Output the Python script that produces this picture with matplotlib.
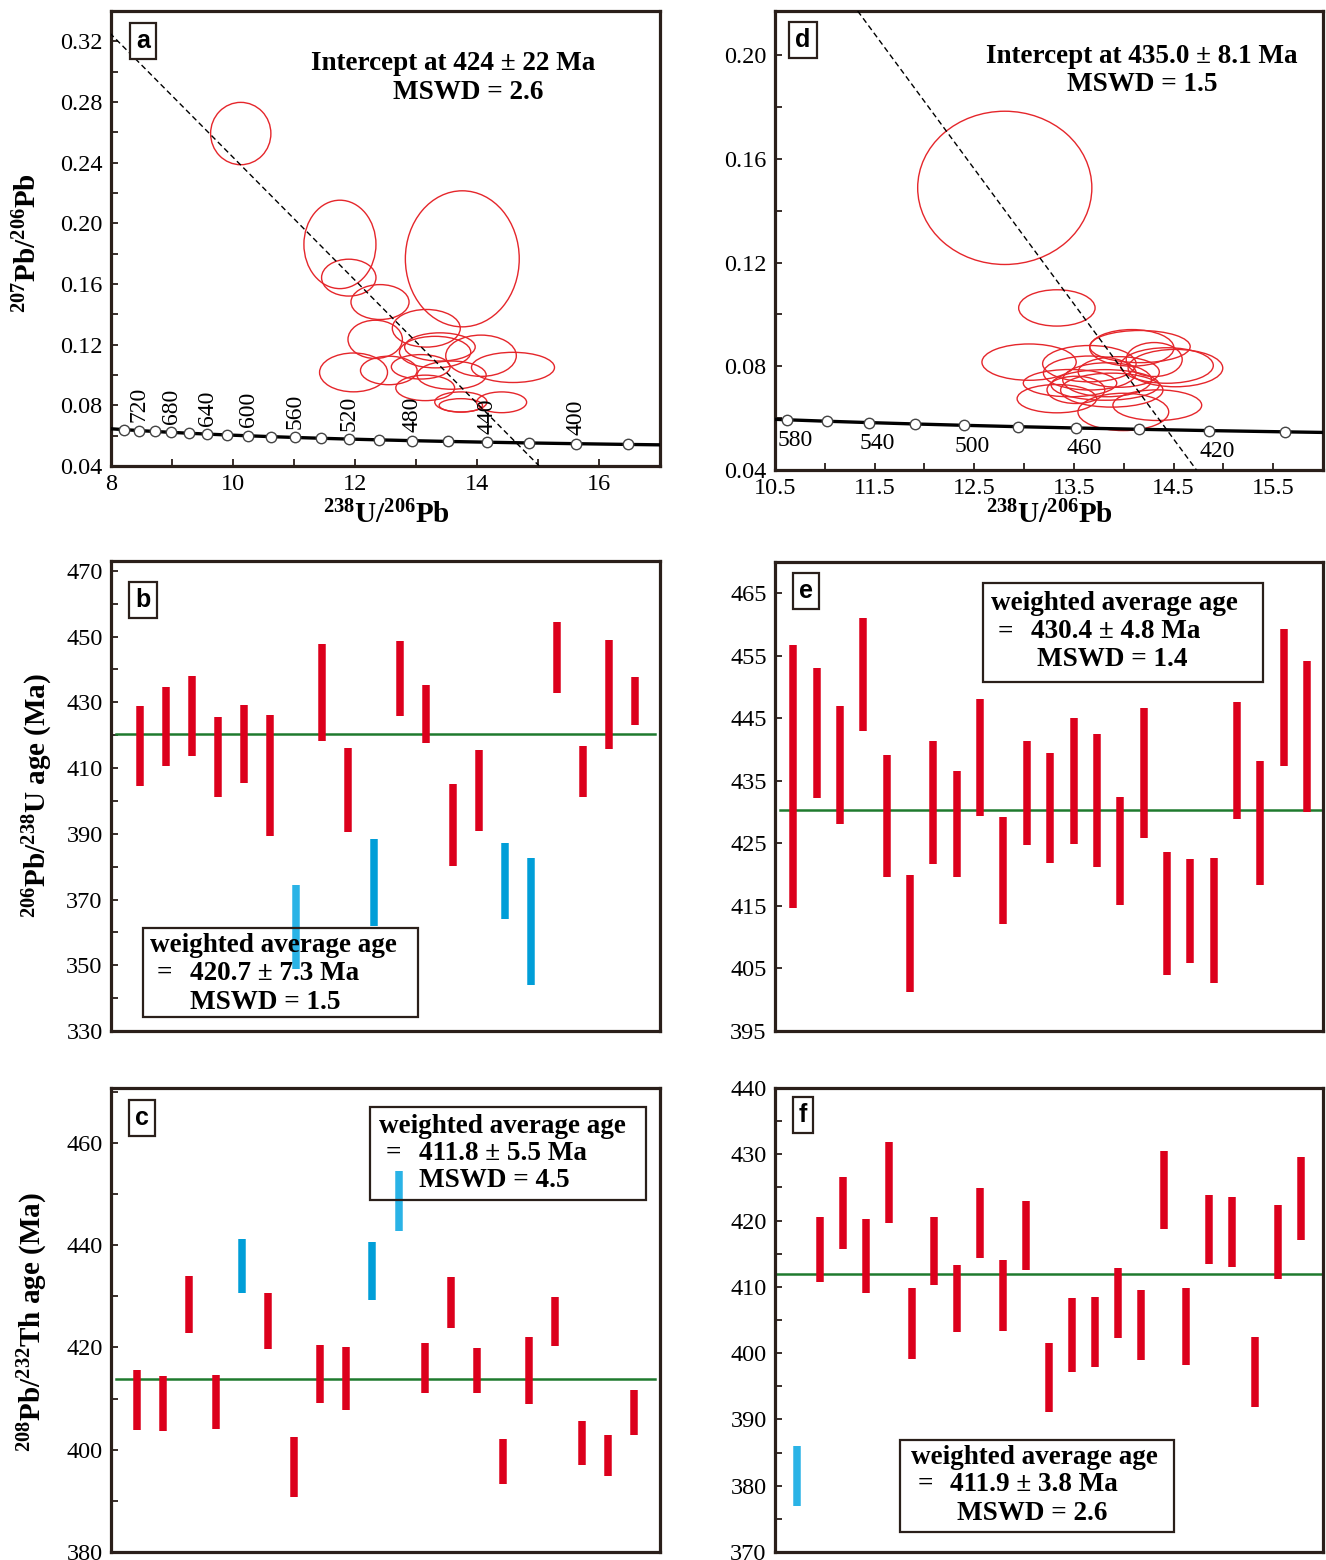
import matplotlib
matplotlib.use("Agg")
import matplotlib.pyplot as plt
from matplotlib.patches import Ellipse, Rectangle
from matplotlib.ticker import MultipleLocator, FixedLocator, NullLocator

plt.rcParams['font.family'] = ['Liberation Serif', 'DejaVu Serif']
plt.rcParams['mathtext.fontset'] = 'custom'
plt.rcParams['mathtext.rm'] = 'Liberation Serif:bold'
plt.rcParams['mathtext.it'] = 'Liberation Serif:bold'
plt.rcParams['mathtext.bf'] = 'Liberation Serif:bold'

# ---------------- data ----------------
# Concordia curve points, ages in Ma
conc_age = [760, 740, 720, 700, 680, 660, 640, 620, 600, 580, 560, 540, 520,
            500, 480, 460, 440, 420, 400, 380, 360]
conc_x = [7.992, 8.221, 8.463, 8.718, 8.989, 9.276, 9.581, 9.905, 10.252, 10.622,
          11.019, 11.445, 11.904, 12.399, 12.936, 13.520, 14.157, 14.854, 15.621,
          16.469, 17.411]
conc_y = [0.06456, 0.06396, 0.06336, 0.06276, 0.06218, 0.06160, 0.06103, 0.06046,
          0.05991, 0.05936, 0.05881, 0.05828, 0.05775, 0.05723, 0.05671, 0.05620,
          0.05570, 0.05520, 0.05471, 0.05422, 0.05374]
a_marker_ages = [740, 720, 700, 680, 660, 640, 620, 600, 580, 560, 540, 520, 500,
                 480, 460, 440, 420, 400, 380]
a_label_ages = [720, 680, 640, 600, 560, 520, 480, 440, 400]
d_marker_ages = [580, 560, 540, 520, 500, 480, 460, 440, 420, 400]
d_label_ages = [580, 540, 500, 460, 420]

# Discordia lines (two points each)
disc_a_x = [7.98, 15.02]
disc_a_y = [0.3255, 0.04]
disc_d_x = [11.33, 14.73]
disc_d_y = [0.217, 0.04]

# Panel a ellipses: centre x, centre y, width, height
ell_a_cx = [10.127, 11.753, 11.898, 13.759, 12.410, 13.169, 12.331, 13.392, 13.313,
            14.066, 11.976, 12.554, 13.078, 13.584, 14.590, 13.151, 13.735, 13.735, 14.404]
ell_a_cy = [0.2592, 0.1861, 0.1642, 0.1766, 0.1481, 0.1308, 0.1235, 0.1185, 0.1151,
            0.1127, 0.1017, 0.1030, 0.1054, 0.0999, 0.1050, 0.0915, 0.0822, 0.0800, 0.0820]
ell_a_w = [0.988, 1.181, 0.892, 1.867, 0.952, 1.114, 0.892, 1.157, 1.169,
           1.157, 1.114, 0.928, 0.964, 1.133, 1.361, 0.964, 0.855, 0.711, 0.819]
ell_a_h = [0.0411, 0.0583, 0.0243, 0.0897, 0.0230, 0.0248, 0.0252, 0.0186, 0.0208,
           0.0272, 0.0256, 0.0188, 0.0161, 0.0186, 0.0199, 0.0168, 0.0133, 0.0088, 0.0137]

# Panel d ellipses
ell_d_cx = [12.806, 13.329, 13.050, 14.081, 14.163, 14.519, 14.434, 13.655, 13.329,
            13.461, 13.996, 14.337, 13.880, 13.833, 13.659, 13.814, 14.306, 13.950, 13.520]
ell_d_cy = [0.1488, 0.1025, 0.0816, 0.0871, 0.0876, 0.0793, 0.0803, 0.0810, 0.0675,
            0.0735, 0.0624, 0.0650, 0.0708, 0.0748, 0.0774, 0.0728, 0.0826, 0.0778, 0.0709]
ell_d_w = [1.748, 0.767, 0.946, 0.845, 1.008, 0.950, 0.930, 0.938, 0.798,
           0.938, 0.911, 0.891, 1.027, 0.891, 0.930, 1.085, 0.562, 0.814, 0.580]
ell_d_h = [0.0591, 0.0140, 0.0140, 0.0141, 0.0124, 0.0144, 0.0137, 0.0140, 0.0109,
           0.0105, 0.0144, 0.0118, 0.0131, 0.0131, 0.0131, 0.0118, 0.0131, 0.0118, 0.0105]

# Panel b: 206Pb/238U ages (top, bottom of 2-sigma bars), colour class
b_hi = [429.0, 434.7, 438.1, 425.5, 429.3, 426.0, 374.4, 447.8, 416.0, 388.4,
        448.7, 435.4, 405.0, 415.5, 387.1, 382.7, 454.5, 416.8, 448.9, 437.8]
b_lo = [404.6, 410.5, 413.8, 401.1, 405.4, 389.2, 349.0, 418.1, 390.4, 361.9,
        425.9, 417.6, 380.1, 390.7, 364.2, 344.0, 432.7, 401.1, 415.7, 423.1]
b_cls = ['r', 'r', 'r', 'r', 'r', 'r', 'lb', 'r', 'r', 'b',
         'r', 'r', 'r', 'r', 'b', 'b', 'r', 'r', 'r', 'r']
b_mean = 420.5

# Panel c: 208Pb/232Th ages
c_hi = [415.5, 414.5, 433.9, 414.6, 441.2, 430.6, 402.4, 420.5, 420.1, 440.6,
        454.5, 420.8, 433.7, 419.9, 402.1, 422.1, 429.9, 405.7, 402.8, 411.6]
c_lo = [403.9, 403.7, 422.8, 404.1, 430.6, 419.7, 390.7, 409.2, 407.8, 429.3,
        442.8, 411.1, 423.8, 411.1, 393.3, 408.9, 420.3, 397.0, 394.8, 402.8]
c_cls = ['r', 'r', 'r', 'r', 'b', 'r', 'r', 'r', 'r', 'b',
         'lb', 'r', 'r', 'r', 'r', 'r', 'r', 'r', 'r', 'r']
c_mean = 413.9

# Panel e: 206Pb/238U ages
e_hi = [456.8, 453.1, 446.9, 461.0, 439.2, 420.0, 441.4, 436.5, 448.1, 429.2, 441.4, 439.4,
        445.1, 442.5, 432.4, 446.7, 423.7, 422.5, 422.6, 447.6, 438.1, 459.3, 454.2]
e_lo = [414.6, 432.2, 428.1, 443.0, 419.6, 401.3, 421.7, 419.6, 429.4, 412.1, 424.7, 421.9,
        424.9, 421.3, 415.1, 425.9, 404.0, 405.9, 402.7, 428.9, 418.3, 437.3, 430.1]
e_mean = 430.4

# Panel f: 208Pb/232Th ages
f_hi = [386.0, 420.5, 426.6, 420.2, 431.9, 409.8, 420.6, 413.3, 424.9, 414.0, 422.9, 401.5,
        408.3, 408.5, 412.9, 409.5, 430.5, 409.9, 423.9, 423.5, 402.5, 422.4, 429.6]
f_lo = [376.9, 410.8, 415.7, 409.0, 419.6, 399.1, 410.3, 403.2, 414.4, 403.4, 412.5, 391.1,
        397.1, 397.9, 402.3, 399.0, 418.7, 398.2, 413.4, 413.0, 391.8, 411.2, 417.1]
f_cls = ['lb'] + ['r'] * 22
f_mean = 412.0

# ---------------- styles ----------------
RED = '#DC001C'
BLUE = '#009ED8'
LBLUE = '#2AB3E6'
COLS = {'r': RED, 'b': BLUE, 'lb': LBLUE}
ERED = '#E5262B'
GREEN = '#1F7A2E'
SPINE = '#2A1F1A'
W, H = 1326, 1560
TXT = 19.5
TICK = 17.5

fig = plt.figure(figsize=(W / 100, H / 100), dpi=100)


def add_ax(l, t, r, b):
    return fig.add_axes([l / W, 1 - b / H, (r - l) / W, (b - t) / H])


def style(ax):
    for s in ax.spines.values():
        s.set_linewidth(2.3)
        s.set_color(SPINE)
    ax.tick_params(which='both', direction='in', length=5, width=1.3, color=SPINE,
                   labelsize=TICK, pad=6, top=False, right=False)


def letter(ax, ch, x, y):
    ax.text(x, y, ch, transform=ax.transAxes, ha='center', va='center',
            fontsize=18, fontweight='bold', family='Liberation Sans', zorder=10,
            bbox=dict(boxstyle='square,pad=0.25', fc='white', ec=SPINE, lw=1.6))


def wbox(ax, x0, y0, x1, y1, lines):
    ax.add_patch(Rectangle((x0, y0), x1 - x0, y1 - y0, transform=ax.transAxes,
                           fill=False, ec=SPINE, lw=1.6, zorder=6))
    for (x, y, s) in lines:
        ax.text(x, y, s, transform=ax.transAxes, ha='left', va='center',
                fontsize=TXT, fontweight='bold', zorder=7)


def bars(ax, hi, lo, cls):
    xs = list(range(1, len(hi) + 1))
    cols = [COLS[c] for c in cls]
    ax.vlines(xs, lo, hi, colors=cols, lw=5.4, zorder=3)


# ---------------- panel a ----------------
axa = add_ax(111, 11, 660, 466)
style(axa)
axa.set_xlim(8, 17.0)
axa.set_ylim(0.04, 0.34)
axa.xaxis.set_major_locator(FixedLocator([8, 10, 12, 14, 16]))
axa.xaxis.set_minor_locator(FixedLocator([9, 11, 13, 15]))
axa.yaxis.set_major_locator(FixedLocator([0.04, 0.08, 0.12, 0.16, 0.20, 0.24, 0.28, 0.32]))
axa.yaxis.set_minor_locator(FixedLocator([0.06, 0.10, 0.14, 0.18, 0.22, 0.26, 0.30]))
axa.set_yticklabels(['0.04', '0.08', '0.12', '0.16', '0.20', '0.24', '0.28', '0.32'])
axa.plot(conc_x, conc_y, color='black', lw=2.4, zorder=4)
mx = [conc_x[conc_age.index(a)] for a in a_marker_ages]
my = [conc_y[conc_age.index(a)] for a in a_marker_ages]
axa.plot(mx, my, 'o', ms=7.5, mfc='white', mec='#444444', mew=1.0, zorder=5)
for a in a_label_ages:
    i = conc_age.index(a)
    axa.text(conc_x[i], conc_y[i] + 0.0055, str(a), rotation=90, ha='center',
             va='bottom', fontsize=17, zorder=5)
axa.plot(disc_a_x, disc_a_y, ls=(0, (4, 2.5)), color='black', lw=1.0, zorder=4)
for cx, cy, w, h in zip(ell_a_cx, ell_a_cy, ell_a_w, ell_a_h):
    axa.add_patch(Ellipse((cx, cy), w, h, fill=False, ec=ERED, lw=1.0, zorder=3))
letter(axa, 'a', 0.058, 0.934)
axa.text(0.623, 0.884, 'Intercept at 424 ± 22 Ma', transform=axa.transAxes,
         ha='center', va='center', fontsize=TXT, fontweight='bold')
axa.text(0.650, 0.820, 'MSWD = 2.6', transform=axa.transAxes,
         ha='center', va='center', fontsize=TXT, fontweight='bold')

# ---------------- panel d ----------------
axd = add_ax(775, 11, 1323, 470)
style(axd)
axd.set_xlim(10.5, 16.0)
axd.set_ylim(0.04, 0.217)
axd.xaxis.set_major_locator(FixedLocator([10.5, 11.5, 12.5, 13.5, 14.5, 15.5]))
axd.xaxis.set_minor_locator(FixedLocator([11, 12, 13, 14, 15]))
axd.yaxis.set_major_locator(FixedLocator([0.04, 0.08, 0.12, 0.16, 0.20]))
axd.yaxis.set_minor_locator(FixedLocator([0.06, 0.10, 0.14, 0.18]))
axd.set_yticklabels(['0.04', '0.08', '0.12', '0.16', '0.20'])
axd.plot(conc_x, conc_y, color='black', lw=2.4, zorder=4)
mx = [conc_x[conc_age.index(a)] for a in d_marker_ages]
my = [conc_y[conc_age.index(a)] for a in d_marker_ages]
axd.plot(mx, my, 'o', ms=7.5, mfc='white', mec='#444444', mew=1.0, zorder=5)
for a in d_label_ages:
    i = conc_age.index(a)
    axd.text(conc_x[i] + 0.08, conc_y[i] - 0.004, str(a), ha='center',
             va='top', fontsize=17, zorder=5)
axd.plot(disc_d_x, disc_d_y, ls=(0, (4, 2.5)), color='black', lw=1.0, zorder=4)
for cx, cy, w, h in zip(ell_d_cx, ell_d_cy, ell_d_w, ell_d_h):
    axd.add_patch(Ellipse((cx, cy), w, h, fill=False, ec=ERED, lw=1.0, zorder=3))
letter(axd, 'd', 0.051, 0.937)
axd.text(0.670, 0.900, 'Intercept at 435.0 ± 8.1 Ma', transform=axd.transAxes,
         ha='center', va='center', fontsize=TXT, fontweight='bold')
axd.text(0.670, 0.839, 'MSWD = 1.5', transform=axd.transAxes,
         ha='center', va='center', fontsize=TXT, fontweight='bold')

# ---------------- panel b ----------------
axb = add_ax(111, 561, 660, 1031)
style(axb)
axb.set_xlim(-0.12, 20.97)
axb.set_ylim(330, 473)
axb.xaxis.set_major_locator(NullLocator())
axb.yaxis.set_major_locator(MultipleLocator(20, offset=10))
axb.yaxis.set_minor_locator(MultipleLocator(10))
bars(axb, b_hi, b_lo, b_cls)
axb.axhline(b_mean, xmin=0.01, xmax=0.99, color=GREEN, lw=1.8, zorder=2)
letter(axb, 'b', 0.058, 0.917)
wbox(axb, 0.058, 0.030, 0.559, 0.219,
     [(0.071, 0.181, 'weighted average age'), (0.083, 0.122, '='),
      (0.143, 0.122, '420.7 ± 7.3 Ma'), (0.143, 0.061, 'MSWD = 1.5')])

# ---------------- panel e ----------------
axe = add_ax(775, 562, 1323, 1031)
style(axe)
axe.set_xlim(0.22, 23.68)
axe.set_ylim(395, 470)
axe.xaxis.set_major_locator(NullLocator())
axe.yaxis.set_major_locator(MultipleLocator(10, offset=5))
bars(axe, e_hi, e_lo, ['r'] * len(e_hi))
axe.axhline(e_mean, xmin=0.01, xmax=1.0, color=GREEN, lw=1.8, zorder=2)
letter(axe, 'e', 0.057, 0.938)
wbox(axe, 0.379, 0.745, 0.890, 0.956,
     [(0.395, 0.912, 'weighted average age'), (0.406, 0.851, '='),
      (0.468, 0.851, '430.4 ± 4.8 Ma'), (0.479, 0.792, 'MSWD = 1.4')])

# ---------------- panel c ----------------
axc = add_ax(111, 1088, 660, 1552)
style(axc)
axc.set_xlim(0.0, 21.0)
axc.set_ylim(380, 470.7)
axc.xaxis.set_major_locator(NullLocator())
axc.yaxis.set_major_locator(MultipleLocator(20))
axc.yaxis.set_minor_locator(MultipleLocator(10))
bars(axc, c_hi, c_lo, c_cls)
axc.axhline(c_mean, xmin=0.01, xmax=0.99, color=GREEN, lw=1.8, zorder=2)
letter(axc, 'c', 0.057, 0.935)
wbox(axc, 0.472, 0.758, 0.975, 0.959,
     [(0.489, 0.918, 'weighted average age'), (0.500, 0.859, '='),
      (0.561, 0.859, '411.8 ± 5.5 Ma'), (0.561, 0.800, 'MSWD = 4.5')])

# ---------------- panel f ----------------
axf = add_ax(775, 1088, 1323, 1552)
style(axf)
axf.set_xlim(0.04, 23.96)
axf.set_ylim(370, 440)
axf.xaxis.set_major_locator(NullLocator())
axf.yaxis.set_major_locator(MultipleLocator(10))
axf.yaxis.set_minor_locator(MultipleLocator(5))
bars(axf, f_hi, f_lo, f_cls)
axf.axhline(f_mean, xmin=0.0, xmax=1.0, color=GREEN, lw=1.8, zorder=2)
letter(axf, 'f', 0.051, 0.942)
wbox(axf, 0.229, 0.043, 0.728, 0.241,
     [(0.249, 0.204, 'weighted average age'), (0.260, 0.146, '='),
      (0.320, 0.146, '411.9 ± 3.8 Ma'), (0.332, 0.083, 'MSWD = 2.6')])

# ---------------- axis titles ----------------
fig.text(28 / W, 1 - 243 / H, r'$^{207}$Pb/$^{206}$Pb', rotation=90, ha='center',
         va='center', fontsize=21, fontweight='bold')
fig.text(38 / W, 1 - 795 / H, r'$^{206}$Pb/$^{238}$U age (Ma)', rotation=90, ha='center',
         va='center', fontsize=21, fontweight='bold')
fig.text(33 / W, 1 - 1322 / H, r'$^{208}$Pb/$^{232}$Th age (Ma)', rotation=90, ha='center',
         va='center', fontsize=21, fontweight='bold')
fig.text(387 / W, 1 - 515 / H, r'$^{238}$U/$^{206}$Pb', ha='center', va='center',
         fontsize=21, fontweight='bold')
fig.text(1050 / W, 1 - 515 / H, r'$^{238}$U/$^{206}$Pb', ha='center', va='center',
         fontsize=21, fontweight='bold')

fig.savefig('out.png', dpi=100, facecolor='white')
